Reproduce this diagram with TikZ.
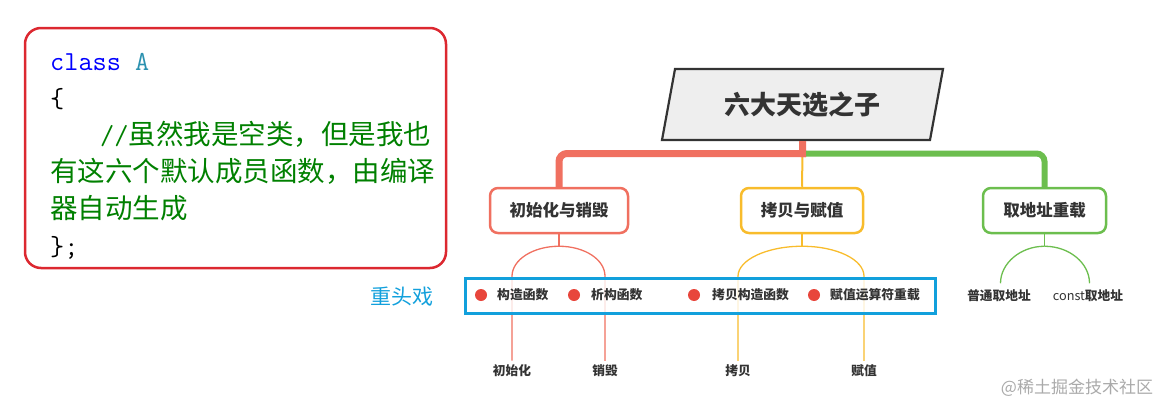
\documentclass[tikz,border=0pt]{standalone}
\usepackage{fontspec}
\setmainfont{Noto Sans CJK SC}
\usepackage{tikz}
\usetikzlibrary{shapes.geometric, calc}
\usepackage{xcolor}

\definecolor{initred}{HTML}{F07060}
\definecolor{copyorange}{HTML}{F8BC2C}
\definecolor{addrgreen}{HTML}{6CBE4E}
\definecolor{dotred}{HTML}{E8463C}
\definecolor{headblue}{HTML}{12A0DC}
\definecolor{codered}{HTML}{DC2830}
\definecolor{kwblue}{HTML}{0000FF}
\definecolor{typeteal}{HTML}{2B91AF}
\definecolor{commentgreen}{HTML}{008000}
\definecolor{textgray}{HTML}{333333}
\definecolor{rootfill}{HTML}{EEEEEE}
\definecolor{markgray}{HTML}{AAAAAA}

\begin{document}
\begin{tikzpicture}[x=1pt, y=-1pt]

        % 1. Fix the canvas to the size of the reference
        \useasboundingbox (0,0) rectangle (1172,415);

        \tikzset{
            branchbox/.style={draw, rounded corners=8pt, line width=2.5pt, fill=white, minimum height=45pt, inner sep=0pt, font=\fontsize{16.5}{18}\selectfont\bfseries, text=textgray},
            leaflabel/.style={inner sep=4pt, font=\fontsize{12.7}{14}\selectfont\bfseries, text=textgray},
            codeline/.style={anchor=base west, inner sep=0pt, font=\fontsize{27.5}{30}\selectfont},
            bulletdot/.style={circle, fill=dotred, minimum size=12pt, inner sep=0pt},
            itemtext/.style={anchor=west, inner sep=0pt, font=\fontsize{12.8}{14}\selectfont\bfseries, text=textgray},
            twig/.style={line width=1.3pt}
        }

        % 2. The code box on the left
        \node[draw=codered, line width=2.5pt, rounded corners=16pt, minimum width=421pt, minimum height=240pt] (code) at (235.5,148) {};
        \node[codeline] (c1) at (50,70) {\ttfamily\textcolor{kwblue}{class} \textcolor{typeteal}{A}};
        \node[codeline] (c2) at (50,107) {\ttfamily\{};
        \node[codeline, text=commentgreen] (c3) at (100,144) {{\ttfamily //}虽然我是空类，但是我也};
        \node[codeline, text=commentgreen] (c4) at (50,181) {有这六个默认成员函数，由编译};
        \node[codeline, text=commentgreen] (c5) at (50,218) {器自动生成};
        \node[codeline] (c6) at (50,255) {\ttfamily\};};

        % 3. Root and the three branches
        \node[draw=textgray, line width=2.2pt, fill=rootfill, trapezium, trapezium left angle=63, trapezium right angle=117, trapezium stretches body, minimum width=281pt, minimum height=71pt, inner sep=0pt, font=\fontsize{26}{28}\selectfont\bfseries, text=textgray] (root) at (802.5,104.5) {六大天选之子};

        \node[branchbox, draw=initred, minimum width=138pt] (b1) at (559,210.5) {初始化与销毁};
        \node[branchbox, draw=copyorange, minimum width=122pt] (b2) at (802,210.5) {拷贝与赋值};
        \node[branchbox, draw=addrgreen, minimum width=123pt] (b3) at (1044.5,210.5) {取地址重载};

        \coordinate (fork) at (802.5,153.5);
        \draw[copyorange, line width=2pt] (fork) -- (b2.north);
        \draw[initred, line width=7pt] (root.south) -- ($(fork)+(0,3.5)$);
        \draw[initred, line width=7pt, rounded corners=8pt] ($(fork)+(3.5,0)$) -| (b1.north);
        \draw[addrgreen, line width=6pt, rounded corners=8pt] ($(fork)+(3.5,0)$) -| (b3.north);

        % 4. Leaves under each branch
        \node[leaflabel] (l1) at (512,371) {初始化};
        \node[leaflabel] (l2) at (605,371) {销毁};
        \node[leaflabel] (l3) at (738,371) {拷贝};
        \node[leaflabel] (l4) at (864,371) {赋值};
        \node[leaflabel] (l5) at (999,296) {普通取地址};
        \node[leaflabel] (l6) at (1088,296) {{\mdseries const}取地址};

        \draw[twig, initred] (b1.south) -- ++(0,12) coordinate (j1);
        \draw[twig, initred] (j1) .. controls +(-26,0) and +(0,-16.5) .. ++(-47,30) -- (l1.north);
        \draw[twig, initred] (j1) .. controls +(26,0) and +(0,-16.5) .. ++(46,30) -- (l2.north);

        \draw[twig, copyorange] (b2.south) -- ++(0,12) coordinate (j2);
        \draw[twig, copyorange] (j2) .. controls +(-35,0) and +(0,-16.5) .. ++(-64,30) -- (l3.north);
        \draw[twig, copyorange] (j2) .. controls +(35,0) and +(0,-16.5) .. ++(62,30) -- (l4.north);

        \draw[twig, addrgreen] (b3.south) -- ++(0,12) coordinate (j3);
        \draw[twig, addrgreen] (j3) .. controls +(-24,0) and +(0,-20) .. ++(-44,37);
        \draw[twig, addrgreen] (j3) .. controls +(25,0) and +(0,-20) .. ++(45,37);

        % 5. The highlighted constructors row
        \node[draw=headblue, line width=3pt, fill=white, fill opacity=0.8, draw opacity=1, minimum width=470pt, minimum height=35pt, inner sep=0pt] (core) at (700,295.5) {};
        \node[text=headblue, font=\fontsize{21}{23}\selectfont] (head) at (402,297) {重头戏};

        \node[bulletdot] (d1) at (481,295) {};
        \node[itemtext] (t1) at (497,295) {构造函数};
        \node[bulletdot] (d2) at (574,295) {};
        \node[itemtext] (t2) at (591,295) {析构函数};
        \node[bulletdot] (d3) at (694,295) {};
        \node[itemtext] (t3) at (712,295) {拷贝构造函数};
        \node[bulletdot] (d4) at (814,295) {};
        \node[itemtext] (t4) at (830,295) {赋值运算符重载};

        % 6. Watermark
        \node[text=markgray, font=\fontsize{17}{19}\selectfont] (mark) at (1077,388) {@稀土掘金技术社区};

    \end{tikzpicture}
\end{document}
